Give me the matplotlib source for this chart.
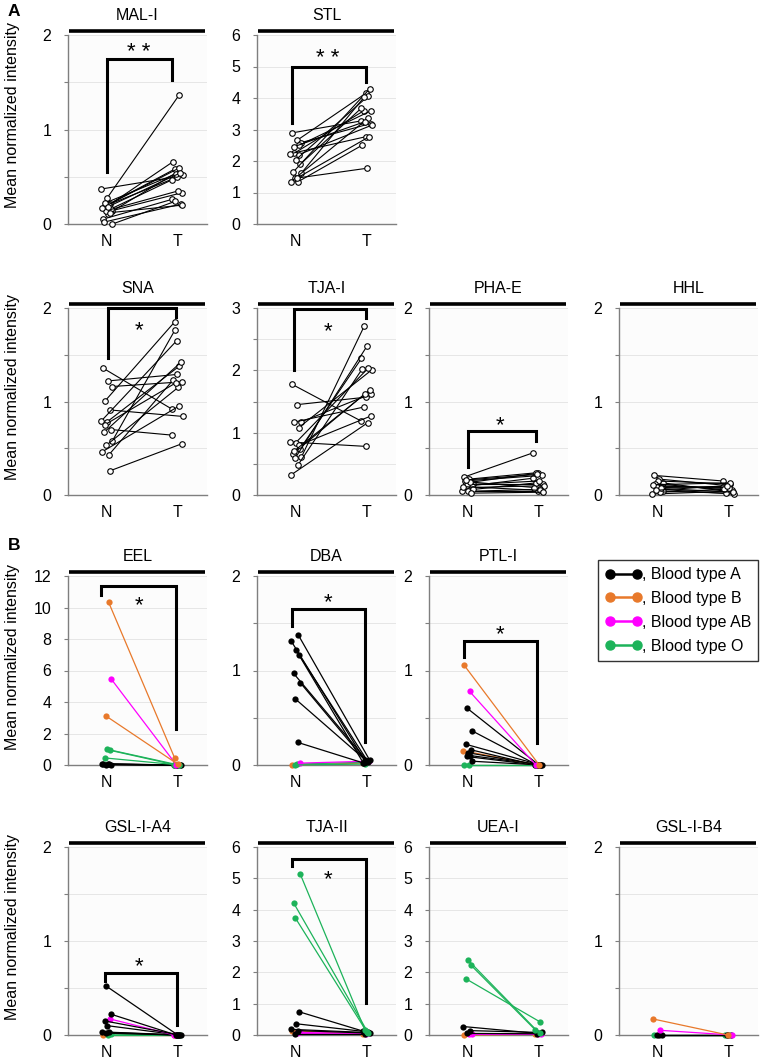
import matplotlib
matplotlib.use('Agg')
import matplotlib.pyplot as plt
from matplotlib.lines import Line2D
from matplotlib.transforms import offset_copy

plt.rcParams['font.family'] = ['Liberation Sans', 'DejaVu Sans']

# ---- Panel A: paired N/T values (open circles) ----
MALI_N = [0.05, 0.11, 0.14, 0.19, 0.21, 0.37, 0.27, 0.16, 0.02, 0.00, 0.14, 0.20, 0.17, 0.12, 0.22, 0.18]
MALI_T = [0.26, 0.55, 0.33, 0.58, 0.52, 0.50, 1.37, 0.47, 0.21, 0.24, 0.35, 0.66, 0.59, 0.20, 0.53, 0.54]
STL_N = [2.89, 2.66, 2.58, 2.25, 2.20, 2.23, 2.04, 1.89, 1.64, 1.62, 1.45, 1.34, 1.34, 2.50, 2.45, 1.45]
STL_T = [3.27, 4.16, 3.19, 3.59, 3.14, 2.77, 4.07, 3.68, 4.30, 4.03, 1.77, 2.50, 3.35, 3.60, 3.25, 2.77]
SNA_N = [1.36, 1.22, 1.16, 1.01, 0.91, 0.79, 0.78, 0.70, 0.67, 0.58, 0.53, 0.43, 0.46, 0.26, 0.75]
SNA_T = [0.92, 1.29, 1.21, 1.85, 0.84, 1.65, 1.38, 0.64, 1.42, 1.77, 1.15, 1.23, 0.95, 0.55, 1.20]
TJAI_N = [1.78, 1.45, 1.17, 1.17, 1.08, 0.85, 0.84, 0.74, 0.66, 0.61, 0.59, 0.48, 0.32, 0.80, 0.70]
TJAI_T = [1.19, 1.57, 1.62, 1.41, 2.01, 0.78, 2.04, 2.19, 1.69, 2.71, 2.39, 2.02, 1.16, 1.27, 1.62]
PHAE_N = [0.19, 0.17, 0.12, 0.13, 0.08, 0.04, 0.04, 0.10, 0.15, 0.06, 0.11, 0.14, 0.09, 0.02, 0.16]
PHAE_T = [0.45, 0.24, 0.12, 0.23, 0.10, 0.04, 0.06, 0.18, 0.21, 0.13, 0.15, 0.08, 0.05, 0.03, 0.22]
HHL_N = [0.21, 0.17, 0.13, 0.10, 0.06, 0.01, 0.15, 0.08, 0.12, 0.04, 0.09, 0.03, 0.11, 0.07, 0.05]
HHL_T = [0.15, 0.10, 0.03, 0.07, 0.01, 0.04, 0.12, 0.09, 0.05, 0.02, 0.08, 0.06, 0.13, 0.03, 0.10]

# ---- Panel B: paired N/T values by blood type ----
EEL_GRP = ['A', 'A', 'A', 'A', 'A', 'A', 'O', 'O', 'O', 'AB', 'B', 'B']
EEL_N = [0.08, 0.05, 0.03, 0.02, 0.04, 0.06, 1.00, 0.93, 0.45, 5.45, 3.10, 10.35]
EEL_T = [0.00, 0.00, 0.00, 0.00, 0.00, 0.00, 0.00, 0.02, 0.00, 0.03, 0.05, 0.42]
DBA_GRP = ['B', 'O', 'AB', 'O', 'A', 'A', 'A', 'A', 'A', 'A', 'A', 'A']
DBA_N = [0.00, 0.01, 0.02, 0.00, 1.38, 1.31, 1.22, 1.16, 0.97, 0.87, 0.70, 0.24]
DBA_T = [0.02, 0.03, 0.04, 0.01, 0.05, 0.03, 0.04, 0.02, 0.03, 0.05, 0.04, 0.02]
PTLI_GRP = ['O', 'O', 'A', 'A', 'A', 'B', 'A', 'A', 'A', 'A', 'A', 'AB', 'B']
PTLI_N = [0.00, 0.00, 0.04, 0.09, 0.10, 0.15, 0.13, 0.16, 0.22, 0.36, 0.60, 0.78, 1.06]
PTLI_T = [0.00, 0.00, 0.00, 0.00, 0.00, 0.00, 0.00, 0.00, 0.00, 0.00, 0.00, 0.00, 0.00]
GSLA4_GRP = ['B', 'O', 'O', 'A', 'A', 'A', 'A', 'AB', 'A', 'A', 'A']
GSLA4_N = [0.00, 0.00, 0.01, 0.02, 0.03, 0.03, 0.10, 0.17, 0.15, 0.22, 0.52]
GSLA4_T = [0.00, 0.00, 0.00, 0.00, 0.00, 0.00, 0.00, 0.00, 0.00, 0.00, 0.00]
TJAII_GRP = ['B', 'AB', 'AB', 'A', 'A', 'A', 'A', 'A', 'O', 'O', 'O']
TJAII_N = [0.14, 0.05, 0.08, 0.04, 0.14, 0.18, 0.36, 0.74, 4.22, 5.13, 3.74]
TJAII_T = [0.02, 0.03, 0.05, 0.04, 0.06, 0.08, 0.10, 0.12, 0.05, 0.15, 0.10]
UEAI_GRP = ['B', 'AB', 'AB', 'A', 'A', 'A', 'O', 'O', 'O']
UEAI_N = [0.00, 0.02, 0.03, 0.05, 0.14, 0.27, 2.40, 2.22, 1.80]
UEAI_T = [0.02, 0.03, 0.02, 0.04, 0.08, 0.05, 0.05, 0.16, 0.41]
GSLB4_GRP = ['O', 'A', 'A', 'A', 'AB', 'B']
GSLB4_N = [0.00, 0.00, 0.00, 0.00, 0.05, 0.17]
GSLB4_T = [0.00, 0.00, 0.00, 0.00, 0.00, 0.00]

GROUP_COLORS = {'A': '#000000', 'B': '#E8792B', 'AB': '#FF00FF', 'O': '#1DB35A'}
GROUP_ORDER = ['A', 'B', 'AB', 'O']

# small horizontal scatter offsets for the dots (style only)
JIT = [-0.06, 0.02, 0.07, -0.02, 0.04, -0.08, 0.0, 0.06, -0.04, 0.08, -0.01, 0.03, -0.07, 0.05, -0.03, 0.01]

fig = plt.figure(figsize=(7.67, 10.58), dpi=100)
W, H = 767.0, 1058.0
COL_X = [68, 257, 429, 619]
ROW_Y = [(35, 224), (308, 495), (576, 765), (847, 1035)]
AX_W = 139


def make_ax(col, row, ymax, ystep, minor):
    top, bot = ROW_Y[row]
    ax = fig.add_axes([COL_X[col] / W, 1 - bot / H, AX_W / W, (bot - top) / H])
    ax.set_facecolor('#FCFCFC')
    ax.set_xlim(-0.55, 1.42)
    ax.set_ylim(0, ymax)
    ticks = [i * ystep for i in range(int(round(ymax / ystep)) + 1)]
    ax.set_yticks(ticks)
    ax.set_yticklabels(['%g' % t for t in ticks])
    if minor:
        mt = [minor * (i + 1) for i in range(int(round(ymax / minor)) - 1)]
        mt = [m for m in mt if abs(m / ystep - round(m / ystep)) > 1e-6]
        ax.set_yticks(mt, minor=True)
    ax.yaxis.grid(True, which='both', color='#E6E6E6', lw=0.7)
    ax.set_axisbelow(True)
    ax.set_xticks([0, 1])
    ax.set_xticklabels(['N', 'T'])
    for s in ['top', 'right']:
        ax.spines[s].set_visible(False)
    for s in ['left', 'bottom']:
        ax.spines[s].set_color('#7F7F7F')
        ax.spines[s].set_linewidth(1.0)
    ax.tick_params(axis='x', length=0, pad=7, labelsize=11.5)
    ax.tick_params(axis='y', which='both', length=3, width=0.8, color='#7F7F7F',
                   pad=9, labelsize=11.5)
    return ax


def title_bar(ax, name):
    ax.add_line(Line2D([0.01, 0.985], [1.022, 1.022], transform=ax.transAxes,
                       color='black', lw=2.6, clip_on=False, solid_capstyle='butt'))
    ax.text(0.5, 1.065, name, transform=ax.transAxes, ha='center', va='bottom', fontsize=11.5)


def bracket(ax, x0, x1, ytop, yl, yr, ys, stars):
    ax.plot([x0, x0, x1, x1], [yl, ytop, ytop, yr], color='black', lw=2.2,
            solid_joinstyle='miter', clip_on=False, zorder=5)
    # the asterisk glyph sits high in its box, so nudge it down a little
    tr = offset_copy(ax.transData, fig=fig, x=0, y=-6, units='dots')
    ax.text(0.45, ys, stars, ha='center', va='center', fontsize=16, zorder=5, transform=tr)


def paired_open(ax, nvals, tvals):
    for i, (n, t) in enumerate(zip(nvals, tvals)):
        xn = 0 + JIT[i % len(JIT)]
        xt = 1 + JIT[(i + 5) % len(JIT)]
        ax.plot([xn, xt], [n, t], color='black', lw=0.8, zorder=3, clip_on=False,
                marker='o', ms=4.0, mfc='white', mec='black', mew=0.8)


def paired_groups(ax, grp, nvals, tvals):
    for i, (g, n, t) in enumerate(zip(grp, nvals, tvals)):
        xn = 0 + JIT[i % len(JIT)] * 0.8
        xt = 1 + JIT[(i + 5) % len(JIT)] * 0.6
        c = GROUP_COLORS[g]
        ax.plot([xn, xt], [n, t], color=c, lw=0.9, zorder=3, clip_on=False,
                marker='o', ms=4.5, mfc=c, mec=c, mew=0)


# ---- Panel A ----
panels_a = [
    (0, 0, 'MAL-I', 2, 1, 0.5, MALI_N, MALI_T, (0.0, 0.93, 1.75, 0.55, 1.52, 1.88, '* *')),
    (1, 0, 'STL', 6, 1, None, STL_N, STL_T, (-0.05, 1.0, 4.98, 3.2, 4.5, 5.45, '* *')),
    (0, 1, 'SNA', 2, 1, 0.5, SNA_N, SNA_T, (0.02, 0.98, 2.0, 1.47, 1.9, 1.82, '*')),
    (1, 1, 'TJA-I', 3, 1, 0.5, TJAI_N, TJAI_T, (-0.02, 1.0, 2.98, 2.0, 2.84, 2.72, '*')),
    (2, 1, 'PHA-E', 2, 1, 0.5, PHAE_N, PHAE_T, (0.0, 0.97, 0.68, 0.3, 0.58, 0.81, '*')),
    (3, 1, 'HHL', 2, 1, 0.5, HHL_N, HHL_T, None),
]
for col, row, name, ymax, ystep, minor, nv, tv, br in panels_a:
    ax = make_ax(col, row, ymax, ystep, minor)
    title_bar(ax, name)
    paired_open(ax, nv, tv)
    if br:
        bracket(ax, *br)

# ---- Panel B ----
panels_b = [
    (0, 2, 'EEL', 12, 2, None, EEL_GRP, EEL_N, EEL_T, (-0.08, 0.98, 11.37, 10.8, 2.3, 10.5, '*')),
    (1, 2, 'DBA', 2, 1, 0.5, DBA_GRP, DBA_N, DBA_T, (-0.05, 0.98, 1.65, 1.47, 0.24, 1.78, '*')),
    (2, 2, 'PTL-I', 2, 1, 0.5, PTLI_GRP, PTLI_N, PTLI_T, (-0.05, 0.98, 1.31, 1.14, 0.23, 1.44, '*')),
    (0, 3, 'GSL-I-A4', 2, 1, 0.5, GSLA4_GRP, GSLA4_N, GSLA4_T, (-0.02, 1.0, 0.66, 0.57, 0.11, 0.79, '*')),
    (1, 3, 'TJA-II', 6, 1, None, TJAII_GRP, TJAII_N, TJAII_T, (-0.05, 1.0, 5.62, 5.4, 1.02, 5.15, '*')),
    (2, 3, 'UEA-I', 6, 1, None, UEAI_GRP, UEAI_N, UEAI_T, None),
    (3, 3, 'GSL-I-B4', 2, 1, 0.5, GSLB4_GRP, GSLB4_N, GSLB4_T, None),
]
for col, row, name, ymax, ystep, minor, gv, nv, tv, br in panels_b:
    ax = make_ax(col, row, ymax, ystep, minor)
    title_bar(ax, name)
    paired_groups(ax, gv, nv, tv)
    if br:
        bracket(ax, *br)

# y labels for every row
for top, bot in ROW_Y:
    yc = (top + bot) / 2 - 14
    fig.text(13 / W, 1 - yc / H, 'Mean normalized intensity', rotation=90,
             ha='center', va='center', fontsize=11.5)

fig.text(8 / W, 1 - 12 / H, 'A', fontsize=12.5, fontweight='bold', ha='left', va='center')
fig.text(8 / W, 1 - 545 / H, 'B', fontsize=12.5, fontweight='bold', ha='left', va='center')

# legend
handles = [Line2D([0], [0], color=GROUP_COLORS[g], lw=1.8, marker='o', ms=6.5,
                  mfc=GROUP_COLORS[g], mec=GROUP_COLORS[g]) for g in GROUP_ORDER]
labels = [', Blood type ' + g for g in GROUP_ORDER]
leg = fig.legend(handles, labels, loc='upper left',
                 bbox_to_anchor=(598 / W, 1 - 560 / H), numpoints=2,
                 frameon=True, fancybox=False, edgecolor='black', fontsize=11.5,
                 handlelength=2.3, handletextpad=0.0, labelspacing=0.55,
                 borderpad=0.45, borderaxespad=0.0)
leg.get_frame().set_linewidth(1.0)

fig.savefig('out.png', dpi=100)
